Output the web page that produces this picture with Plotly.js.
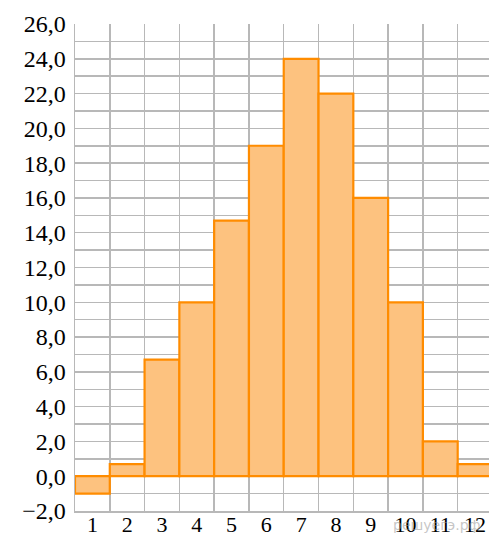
<!DOCTYPE html>
<html>
<head>
<meta charset="utf-8">
<script src="https://cdn.plot.ly/plotly-3.0.1.min.js"></script>
<style>
  html, body { margin: 0; padding: 0; background: #fff; }
  #grafico { width: 489px; height: 535px; }
</style>
</head>
<body>
<div id="grafico"></div>
<script>
// месяцы и средняя температура
const meses = [1, 2, 3, 4, 5, 6, 7, 8, 9, 10, 11, 12];
const valores = [-1.0, 0.7, 6.7, 10.0, 14.7, 19.0, 24.0, 22.0, 16.0, 10.0, 2.0, 0.7];
const marcaAgua = 'решуегэ.рф';

const serif = 'Liberation Serif, Times New Roman, serif';
const fuenteY = { family: serif, size: 24, color: '#000' };
const fuenteX = { family: serif, size: 22, color: '#000' };
const gris = '#b8b8b8';

const trazas = [{
    type: 'bar',
    x: meses,
    y: valores,
    width: 1,
    marker: {
        color: '#fdc27f',
        line: { color: '#ff8c00', width: 2.2 }
    },
    hoverinfo: 'skip'
}];

const layout = {
    width: 489,
    height: 535,
    margin: { l: 75, r: 0, t: 24, b: 24 },
    paper_bgcolor: '#fff',
    plot_bgcolor: '#fff',
    separators: ',.',
    showlegend: false,
    font: { family: serif },
    xaxis: {
        range: [0.5, 12.4],
        tickmode: 'array',
        tickvals: meses,
        ticktext: meses.map(String),
        showgrid: false,
        zeroline: false,
        showline: true,
        linecolor: gris,
        linewidth: 1.5,
        ticks: '',
        ticklabelstandoff: -7,
        tickfont: fuenteX,
        minor: { tickmode: 'linear', tick0: 0.5, dtick: 1, showgrid: true, gridcolor: gris, gridwidth: 1.5, ticks: '' }
    },
    yaxis: {
        range: [-2, 26],
        tick0: 0,
        dtick: 2,
        tickformat: '.1f',
        showgrid: true,
        gridcolor: gris,
        gridwidth: 1.5,
        zeroline: false,
        showline: true,
        linecolor: gris,
        linewidth: 1.5,
        ticks: '',
        ticklabelstandoff: 3,
        tickfont: fuenteY,
        minor: { tick0: 0, dtick: 1, showgrid: true, gridcolor: gris, gridwidth: 1.5, ticks: '' }
    },
    annotations: [{
        text: marcaAgua,
        xref: 'paper', yref: 'paper',
        x: 0.985, y: -0.028,
        xanchor: 'right', yanchor: 'middle',
        showarrow: false,
        font: { family: 'DejaVu Sans, sans-serif', size: 14, color: 'rgba(150,150,150,0.55)' }
    }]
};

Plotly.newPlot('grafico', trazas, layout, { staticPlot: true, displayModeBar: false });
</script>
</body>
</html>
